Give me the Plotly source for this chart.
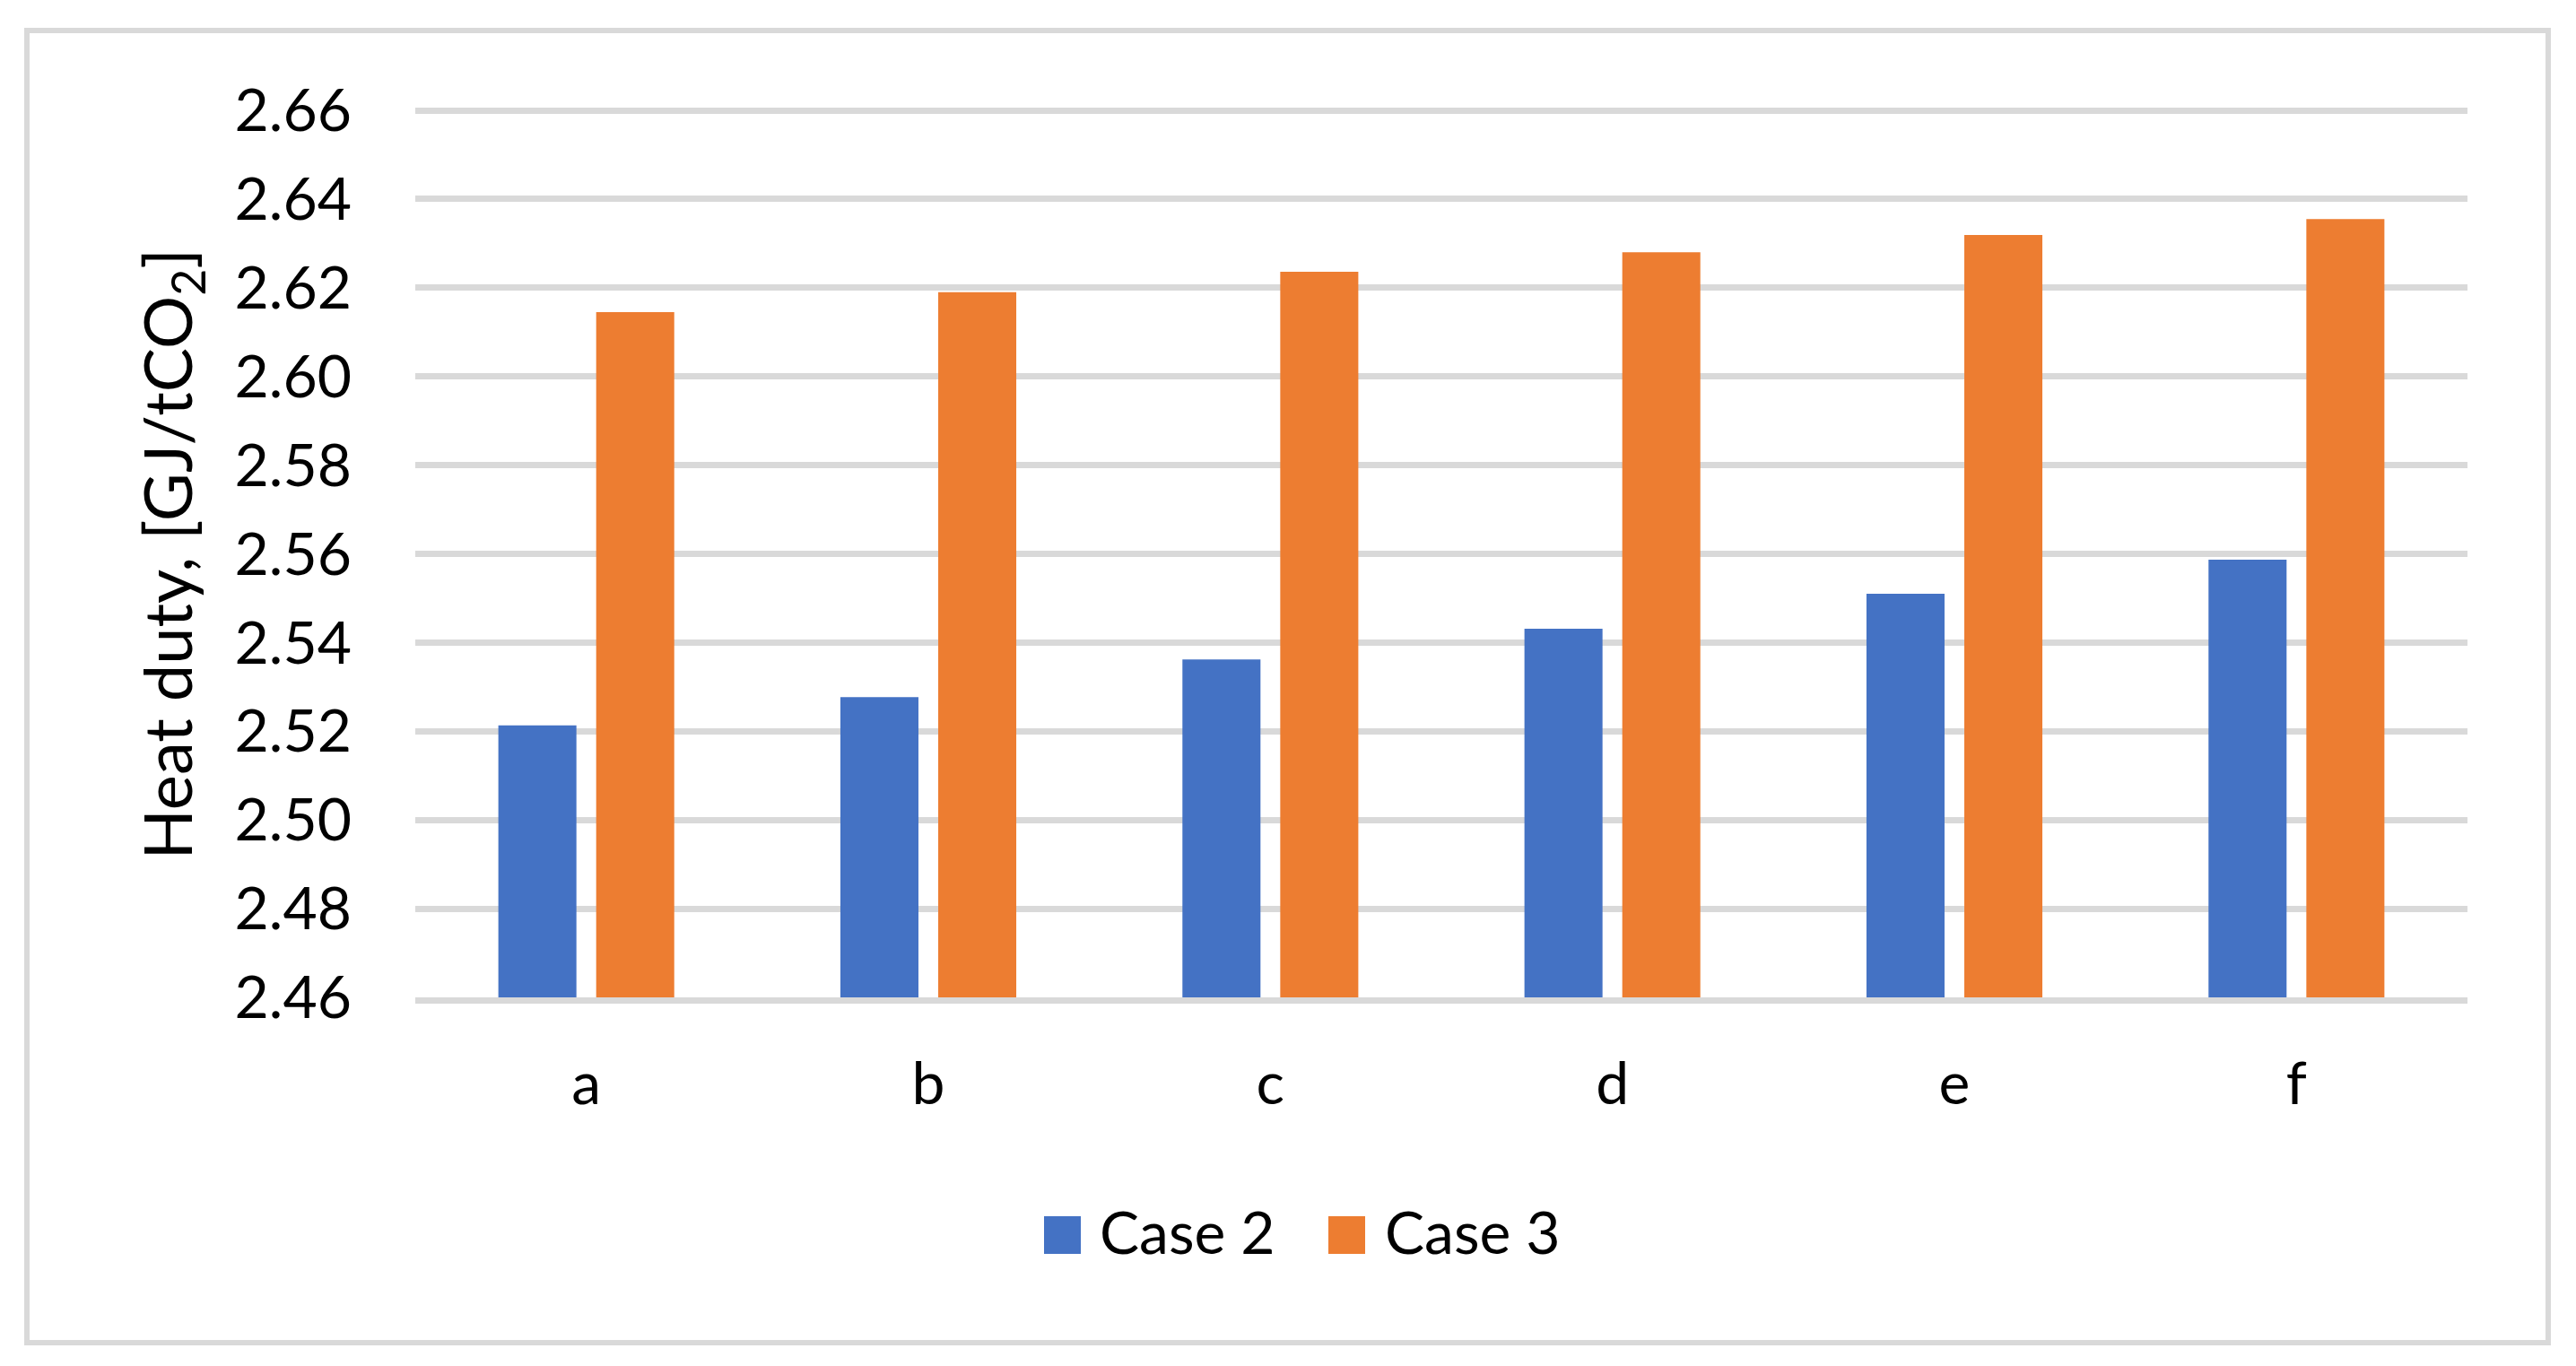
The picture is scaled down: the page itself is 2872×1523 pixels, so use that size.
import plotly.graph_objects as go

categories = ["a", "b", "c", "d", "e", "f"]
case2 = [2.5213, 2.5277, 2.5362, 2.5431, 2.5510, 2.5587]
case3 = [2.6145, 2.6190, 2.6236, 2.6280, 2.6319, 2.6355]
series_names = ["Case 2", "Case 3"]
tick_vals = [2.46, 2.48, 2.50, 2.52, 2.54, 2.56, 2.58, 2.60, 2.62, 2.64, 2.66]
tick_text = ["2.46", "2.48", "2.50", "2.52", "2.54", "2.56", "2.58", "2.60", "2.62", "2.64", "2.66"]
y_title = "Heat duty, [GJ/tCO<sub>2</sub>]"

BLUE = "#4472C4"
ORANGE = "#ED7D31"
GRID = "#D9D9D9"
FONT = "Lato, Carlito, Calibri, sans-serif"

OFF = 8  # page body margin
W, H = 2872 - OFF, 1523 - OFF
# plot area in page pixels; top extended by 2 px so the 2.66 gridline is kept
L, R, T, B = 463 - OFF, 2751 - OFF, 121 - OFF, 1112 - OFF
Y_LO, Y_HI = 2.46, 2.66 + 2.0 / 4945


def px(x):
    return (x - OFF - L) / (R - L)


def py(y):
    return (B - (y - OFF)) / (B - T)


fig = go.Figure()
fig.add_trace(go.Bar(x=categories, y=case2, name=series_names[0],
                     marker=dict(color=BLUE, line=dict(width=0)), showlegend=False))
fig.add_trace(go.Bar(x=categories, y=case3, name=series_names[1],
                     marker=dict(color=ORANGE, line=dict(width=0)), showlegend=False))

shapes = [
    # outer chart border
    dict(type="rect", xref="paper", yref="paper",
         x0=px(30), x1=px(2841), y0=py(1497), y1=py(34),
         line=dict(color=GRID, width=6), fillcolor="rgba(0,0,0,0)", layer="below"),
    # legend swatches
    dict(type="rect", xref="paper", yref="paper",
         x0=px(1164), x1=px(1205), y0=py(1398), y1=py(1356),
         line=dict(width=0), fillcolor=BLUE),
    dict(type="rect", xref="paper", yref="paper",
         x0=px(1481), x1=px(1522), y0=py(1398), y1=py(1356),
         line=dict(width=0), fillcolor=ORANGE),
]

annotations = [
    dict(text=y_title, xref="paper", yref="paper", x=px(190), y=py(617.5),
         xanchor="center", yanchor="middle", textangle=-90, showarrow=False,
         font=dict(family=FONT, size=74, color="black")),
    dict(text=series_names[0], xref="paper", yref="paper", x=px(1224), y=py(1372),
         xanchor="left", yanchor="middle", showarrow=False,
         font=dict(family=FONT, size=66, color="black")),
    dict(text=series_names[1], xref="paper", yref="paper", x=px(1542), y=py(1372),
         xanchor="left", yanchor="middle", showarrow=False,
         font=dict(family=FONT, size=66, color="black")),
]

fig.update_layout(
    width=W, height=H,
    margin=dict(l=L, r=W - R, t=T, b=H - B, pad=0),
    paper_bgcolor="white", plot_bgcolor="white",
    barmode="group", bargap=0.428, bargroupgap=0.202,
    showlegend=False,
    shapes=shapes, annotations=annotations,
    font=dict(family=FONT, color="black"),
)
fig.update_xaxes(
    type="category", showgrid=False, zeroline=False,
    showline=True, linecolor=GRID, linewidth=7,
    ticks="", tickfont=dict(family=FONT, size=66, color="black"),
    ticklabelstandoff=33,
)
fig.update_yaxes(
    range=[Y_LO, Y_HI], tickvals=tick_vals, ticktext=tick_text,
    showgrid=True, gridcolor=GRID, gridwidth=7, zeroline=False, showline=False,
    ticks="", tickfont=dict(family=FONT, size=66, color="black"),
    ticklabelstandoff=70,
)

fig.write_html("out.html")
